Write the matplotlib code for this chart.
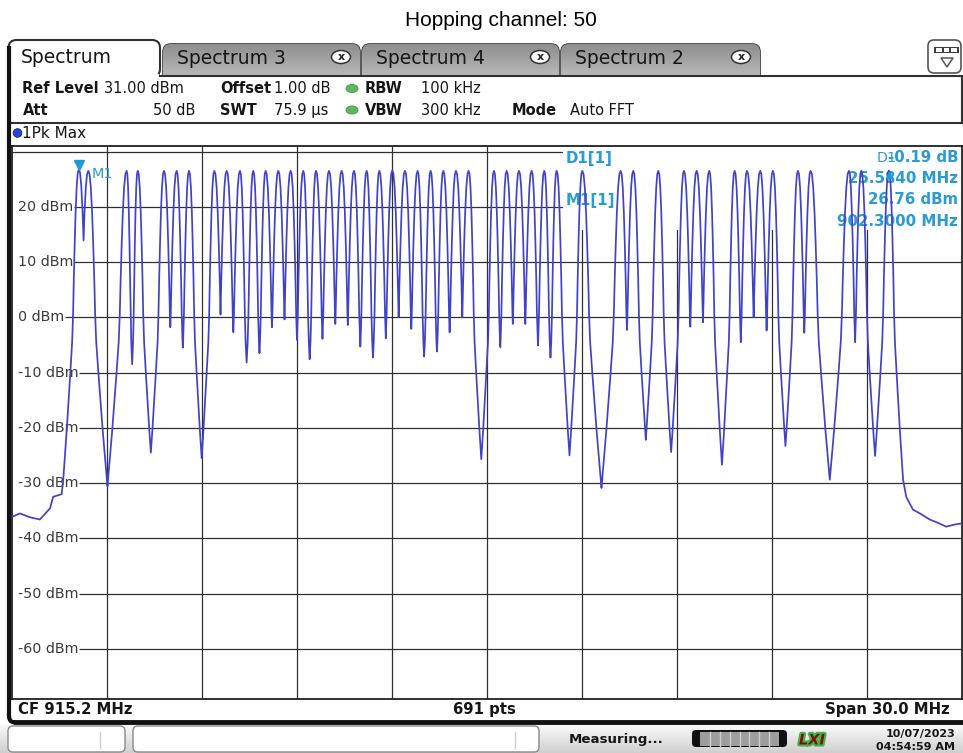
import numpy as np
import matplotlib
matplotlib.use("Agg")
import matplotlib.pyplot as plt
from matplotlib.patches import Rectangle, FancyBboxPatch, Ellipse, Circle, Polygon
import matplotlib.transforms as mtransforms
import matplotlib.patheffects as pe

W, H = 963, 753

# ---- data ----
PEAK_MHZ = [902.30, 902.60, 903.81, 904.16, 904.99, 905.39, 905.78, 906.58, 906.97, 907.39,
            907.81, 908.20, 908.60, 908.99, 909.39, 909.79, 910.20, 910.60, 910.99, 911.39,
            911.79, 912.20, 912.60, 913.00, 913.41, 913.81, 914.21, 914.61, 915.41, 915.81,
            916.20, 916.60, 917.00, 917.39, 918.20, 919.41, 919.81, 920.60, 921.41, 921.81,
            922.21, 923.01, 923.40, 923.82, 924.22, 925.01, 925.41, 926.62, 927.01, 927.88]
PEAK_DBM = [26.76, 26.5, 26.5, 26.5, 26.5, 26.5, 26.5, 26.5, 26.5, 26.5,
            26.5, 26.5, 26.5, 26.5, 26.5, 26.5, 26.5, 26.5, 26.5, 26.5,
            26.5, 26.6, 26.5, 26.5, 26.5, 26.5, 26.5, 26.5, 26.5, 26.5,
            26.5, 26.5, 26.5, 26.5, 26.5, 26.5, 26.5, 26.5, 26.5, 26.5,
            26.5, 26.5, 26.5, 26.5, 26.5, 26.5, 26.5, 26.5, 26.5, 26.57]
# level of the trace between two neighbouring channels
DIP_DBM = [13.9, -30.6, -8.5, -24.5, -1.8, -5.5, -25.5, 0.5, -2.7, -8.2,
           -6.5, -1.8, -0.4, -4.1, -7.6, -3.9, -1.2, -1.4, -5.3, -7.3,
           -3.8, 0.0, -2.1, -7.1, -6.2, -2.7, 0.0, -25.7, -5.4, -1.2,
           -1.2, -5.1, -7.3, -25.0, -30.9, -2.3, -22.2, -24.4, -1.7, -0.9,
           -26.7, -4.5, 0.0, -2.4, -23.3, -2.8, -29.4, -4.5, -25.1]
FLOOR_LEFT_MHZ = [900.20, 900.44, 900.76, 901.07, 901.39, 901.49, 901.76, 901.81]
FLOOR_LEFT_DBM = [-36.1, -35.5, -36.2, -36.6, -34.6, -32.5, -32.0, -29.3]
FLOOR_RIGHT_MHZ = [928.33, 928.43, 928.64, 928.86, 929.17, 929.43, 929.69, 929.97, 930.20]
FLOOR_RIGHT_DBM = [-29.4, -32.5, -34.8, -35.5, -36.6, -37.2, -37.9, -37.5, -37.3]
# fall-off of one channel (offset from its centre vs. dB below its peak)
PROFILE_OFF_MHZ = np.array([0, 0.035, 0.07, 0.105, 0.135, 0.165, 0.19, 0.22, 0.285, 0.40, 0.53, 0.65])
PROFILE_DROP_DB = np.array([0, 0.6, 3, 7.5, 13, 19.5, 26, 31, 37, 47, 57, 65])

Y_LABELS = [20, 10, 0, -10, -20, -30, -40, -50, -60]
CYAN = '#2a9bd3'
TRACE = '#4043c9'


def side(fc, p, fd, d):
    need = p - d
    reach = np.interp(need, PROFILE_DROP_DB, PROFILE_OFF_MHZ)
    scale = abs(fd - fc) / reach
    keep = PROFILE_DROP_DB < need
    return fc + np.sign(fd - fc) * PROFILE_OFF_MHZ[keep] * scale, p - PROFILE_DROP_DB[keep]


fs = list(FLOOR_LEFT_MHZ)
ls = list(FLOOR_LEFT_DBM)
n = len(PEAK_MHZ)
for i in range(n):
    fc, p = PEAK_MHZ[i], PEAK_DBM[i]
    if i == 0:
        fl, dl = FLOOR_LEFT_MHZ[-1], FLOOR_LEFT_DBM[-1]
    else:
        fl, dl = (PEAK_MHZ[i - 1] + fc) / 2, DIP_DBM[i - 1]
    if i == n - 1:
        fr, dr = FLOOR_RIGHT_MHZ[0], FLOOR_RIGHT_DBM[0]
    else:
        fr, dr = (fc + PEAK_MHZ[i + 1]) / 2, DIP_DBM[i]
    f1, l1 = side(fc, p, fl, dl)
    f2, l2 = side(fc, p, fr, dr)
    fs += list(f1[::-1]) + list(f2[1:])
    ls += list(l1[::-1]) + list(l2[1:])
    if i < n - 1:
        fs.append(fr)
        ls.append(dr)
fs += FLOOR_RIGHT_MHZ
ls += FLOOR_RIGHT_DBM


def fxy(x, y):
    return x / W, 1 - y / H


def gradient(ax, x0, y0, w, h, top, bot, clip=None, z=1):
    c0 = np.array(matplotlib.colors.to_rgb(top))
    c1 = np.array(matplotlib.colors.to_rgb(bot))
    t = np.linspace(0, 1, 64)[:, None, None]
    img = c0 * (1 - t) + c1 * t
    im = ax.imshow(img, extent=(x0, x0 + w, y0 + h, y0), origin='upper',
                   aspect='auto', zorder=z, interpolation='bilinear')
    if clip is not None:
        im.set_clip_path(clip)
    return im


fig = plt.figure(figsize=(W / 100, H / 100), dpi=100)
fig.patch.set_facecolor('white')

# ---- screen chrome ----
ui = fig.add_axes([0, 0, 1, 1])
ui.axis('off')

ui.text(501, 20, "Hopping channel: 50", ha='center', va='center', fontsize=15,
        family='Liberation Sans', color='black')

tabs = [("Spectrum 3", 163, 360), ("Spectrum 4", 362, 559), ("Spectrum 2", 561, 760)]
for label, x0, x1 in tabs:
    tab = FancyBboxPatch((x0, 44), x1 - x0, 40, boxstyle='round,pad=0,rounding_size=8',
                         facecolor='#a8a8a8', edgecolor='#3a3a3a', lw=1.2, zorder=2)
    ui.add_patch(tab)
    gradient(ui, x0, 44, x1 - x0, 40, '#8e8e8e', '#c4c4c4', clip=tab, z=2.1)
    ui.text(x0 + 14, 58, label, ha='left', va='center', fontsize=13.5, color='#161616', zorder=3)
    ui.add_patch(Ellipse((x1 - 19, 57), 19, 13, facecolor='white', edgecolor='#333333',
                         lw=1.1, zorder=3))
    ui.text(x1 - 19, 57, 'x', ha='center', va='center', fontsize=8, fontweight='bold',
            color='#222222', zorder=4)

ui.add_patch(Rectangle((8.5, 75.5), 953, 47, facecolor='white', edgecolor='#303030', lw=1.5, zorder=4))
ui.add_patch(FancyBboxPatch((8.5, 40), 151.5, 37, boxstyle='round,pad=0,rounding_size=8',
                            facecolor='white', edgecolor='#303030', lw=1.5, zorder=5))
ui.add_patch(Rectangle((9.5, 73.5), 149, 5, facecolor='white', edgecolor='none', zorder=6))
ui.text(20.5, 57.5, "Spectrum", ha='left', va='center', fontsize=13.5, color='#161616', zorder=7)

# small icon top right
ui.add_patch(FancyBboxPatch((928, 40), 33, 33, boxstyle='round,pad=0,rounding_size=6',
                            facecolor='white', edgecolor='#555555', lw=1.2, zorder=5))
ui.add_patch(Rectangle((934, 47), 25, 6, facecolor='#3c3c4c', edgecolor='none', zorder=6))
for sx in (936, 943.5, 951):
    ui.add_patch(Rectangle((sx, 48), 5.5, 4, facecolor='white', edgecolor='none', zorder=7))
ui.add_patch(Polygon([(941, 58), (953, 58), (947, 67)], closed=True, facecolor='white',
                     edgecolor='#555555', lw=1.1, zorder=6))

# header settings
hdr = dict(va='center', fontsize=10.5, color='#161616', zorder=7)
ui.text(22.5, 88.5, "Ref Level", ha='left', fontweight='bold', **hdr)
ui.text(104, 88.5, "31.00 dBm", ha='left', **hdr)
ui.text(22.5, 110, "Att", ha='left', fontweight='bold', **hdr)
ui.text(195, 110, "50 dB", ha='right', **hdr)
ui.text(220, 88.5, "Offset", ha='left', fontweight='bold', **hdr)
ui.text(274, 88.5, "1.00 dB", ha='left', **hdr)
ui.text(220, 110, "SWT", ha='left', fontweight='bold', **hdr)
ui.text(274, 110, "75.9 µs", ha='left', **hdr)
for gy in (88.5, 110):
    ui.add_patch(Ellipse((352, gy), 12, 8, facecolor='#5cb85f', edgecolor='#3f8f42', lw=0.6, zorder=7))
ui.text(365, 88.5, "RBW", ha='left', fontweight='bold', **hdr)
ui.text(421, 88.5, "100 kHz", ha='left', **hdr)
ui.text(365, 110, "VBW", ha='left', fontweight='bold', **hdr)
ui.text(421, 110, "300 kHz", ha='left', **hdr)
ui.text(512, 110, "Mode", ha='left', fontweight='bold', **hdr)
ui.text(570, 110, "Auto FFT", ha='left', **hdr)

ui.add_patch(Circle((17.5, 133), 4.3, facecolor='#2546d8', edgecolor='#13237a', lw=0.6, zorder=7))
ui.text(22.5, 133.5, "1Pk Max", ha='left', va='center', fontsize=11, color='#161616', zorder=7)

# bottom info bar
bot = dict(va='center', fontsize=10.7, fontweight='bold', color='#161616', zorder=7)
ui.text(17.5, 709.5, "CF 915.2 MHz", ha='left', **bot)
ui.text(484, 709.5, "691 pts", ha='center', **bot)
ui.text(950, 709.5, "Span 30.0 MHz", ha='right', **bot)

# status bar
gradient(ui, 0, 724, W, 29, '#fbfbfb', '#cfcfcf', z=1)
ui.add_patch(FancyBboxPatch((8, 726), 117, 26, boxstyle='round,pad=0,rounding_size=5',
                            facecolor='white', edgecolor='#8a8a8a', lw=1.0, zorder=3))
ui.add_patch(FancyBboxPatch((133, 726), 406, 26, boxstyle='round,pad=0,rounding_size=5',
                            facecolor='white', edgecolor='#8a8a8a', lw=1.0, zorder=3))
ui.plot([100, 100], [732, 748], color='#d0d0d0', lw=1, zorder=4)
ui.plot([515, 515], [732, 748], color='#d0d0d0', lw=1, zorder=4)
ui.text(569, 740, "Measuring...", ha='left', va='center', fontsize=9.6, fontweight='bold',
        color='#161616', zorder=5)
ui.add_patch(FancyBboxPatch((692, 730), 95, 17, boxstyle='round,pad=0,rounding_size=4',
                            facecolor='#111111', edgecolor='none', zorder=4))
ui.add_patch(Rectangle((700, 731.5), 79, 14, facecolor='#9d9d9d', edgecolor='none', zorder=5))
for sx in np.linspace(700, 779, 9)[1:-1]:
    ui.plot([sx, sx], [731.5, 745.5], color='#cfcfcf', lw=1, zorder=6)
ui.text(812, 740, "LXI", ha='center', va='center', fontsize=10.5, fontweight='bold',
        style='italic', color='#7a1414', zorder=6,
        path_effects=[pe.withStroke(linewidth=3, foreground='#49b34a')])
ui.text(955, 733.5, "10/07/2023", ha='right', va='center', fontsize=8, fontweight='bold',
        color='#161616', zorder=6)
ui.text(955, 746.5, "04:54:59 AM", ha='right', va='center', fontsize=8, fontweight='bold',
        color='#161616', zorder=6)

# frame lines
ui.plot([9, 9], [46, 716], color='#111111', lw=3, zorder=8, solid_capstyle='butt')
ui.plot([13, 963], [722, 722], color='#111111', lw=3.5, zorder=8, solid_capstyle='butt')
t_arc = np.linspace(np.pi, np.pi / 2, 12)
ui.plot(13 + 4 * np.cos(t_arc), 716 + 6 * np.sin(t_arc), color='#111111', lw=3, zorder=8)

ui.set_xlim(0, W)
ui.set_ylim(H, 0)

# ---- measurement diagram ----
ax = fig.add_axes([12.3 / W, 1 - 698.5 / H, 950 / W, (698.5 - 146) / H])
ax.set_zorder(2)
ax.set_facecolor('white')
ax.set_xlim(900.2, 930.2)
ax.set_ylim(-69, 31)
ax.set_xticks([])
ax.set_yticks([])
for s in ax.spines.values():
    s.set_color('#202020')
    s.set_linewidth(1.3)

for gx in np.arange(903.2, 929.3, 3.0):
    ax.axvline(gx, color='#303030', lw=0.9, zorder=1)

blend = mtransforms.blended_transform_factory(fig.transFigure, ax.transData)
renderer = fig.canvas.get_renderer()
ax.axhline(30, color='#303030', lw=0.9, zorder=1)
for lev in Y_LABELS:
    t = ax.text(18.3 / W, lev, f"{lev} dBm", transform=blend, ha='left', va='center',
                fontsize=10.3, color='#3a3a3a', zorder=2)
    x_end = ax.transData.inverted().transform((t.get_window_extent(renderer).x1, 0))[0]
    ax.hlines(lev, x_end, 930.2, color='#303030', lw=0.9, zorder=1)

# marker info area hides the grid, not the trace
ax.add_patch(Rectangle((917.59, 15.8), 930.2 - 917.59, 31 - 15.8, facecolor='white',
                       edgecolor='none', zorder=1.5))

mk = dict(transform=fig.transFigure, va='center', fontsize=10.8, fontweight='bold',
          color=CYAN, zorder=2.5)
ax.text(*fxy(566, 158), "D1[1]", ha='left', **mk)
ax.text(*fxy(566, 200.5), "M1[1]", ha='left', **mk)
ax.text(*fxy(958, 158), "-0.19 dB", ha='right', **mk)
ax.text(*fxy(958, 178.5), "25.5840 MHz", ha='right', **mk)
ax.text(*fxy(958, 200), "26.76 dBm", ha='right', **mk)
ax.text(*fxy(958, 221), "902.3000 MHz", ha='right', **mk)
ax.text(*fxy(877, 158), "D1", ha='left', va='center', fontsize=10.4, color=CYAN,
        transform=fig.transFigure, zorder=2.6)
ax.text(*fxy(91.5, 174), "M1", ha='left', va='center', fontsize=10.4, color=CYAN,
        transform=fig.transFigure, zorder=2.6)

ax.plot(fs, ls, color=TRACE, lw=1.25, zorder=3)
ax.plot(PEAK_MHZ[0], 27.6, marker='v', color='#1e9bd7', ms=7, zorder=4)
ax.plot(927.884, 25.8, marker='^', color='#1e9bd7', ms=5, zorder=4)

fig.savefig("out.png", dpi=100, facecolor='white')
